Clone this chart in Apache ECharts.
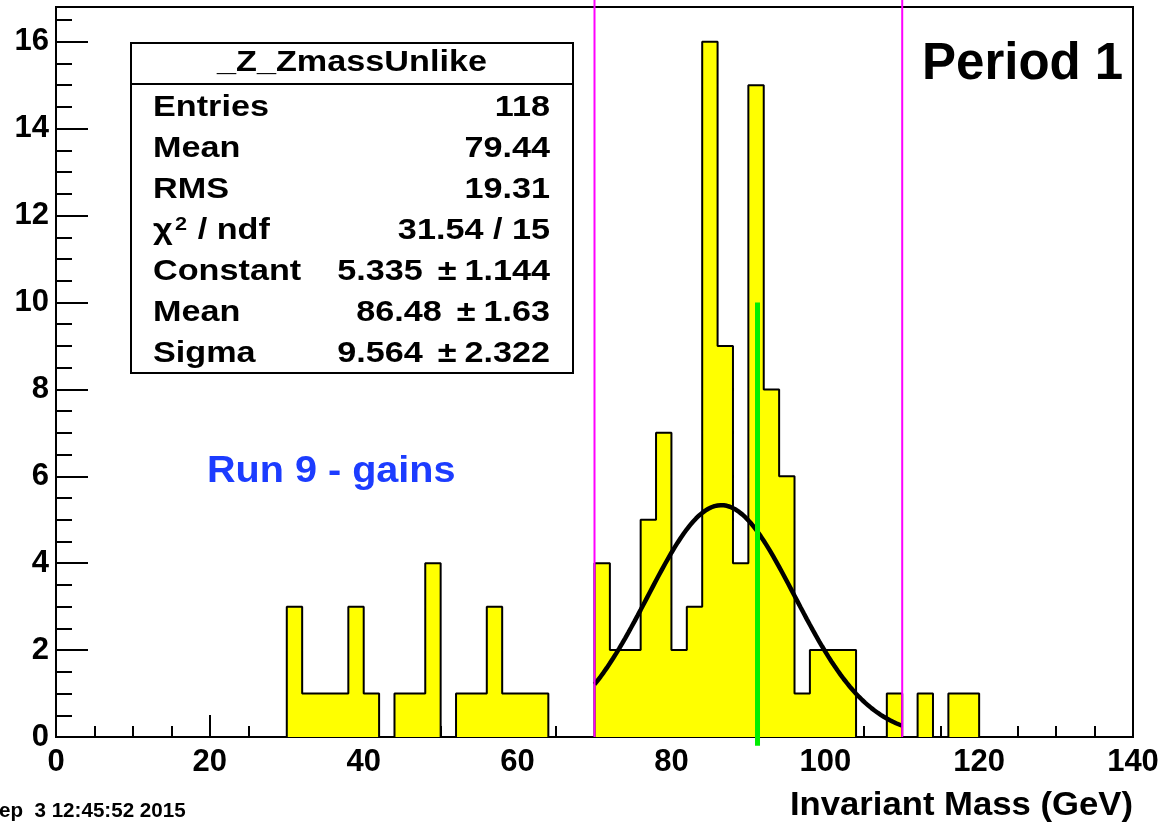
<!DOCTYPE html>
<html>
<head>
<meta charset="utf-8">
<script src="https://cdn.jsdelivr.net/npm/echarts@6/dist/echarts.min.js"></script>
<style>
  html, body { margin: 0; padding: 0; background: #fff; }
  #chart { width: 1164px; height: 829px; }
</style>
</head>
<body>
<div id="chart"></div>
<script>
// Unlike-sign dimuon invariant mass, 2 GeV bins from 0 to 140 GeV
const binLow = 0;
const binWidth = 2;
const binCounts = [
  0, 0, 0, 0, 0, 0, 0, 0, 0, 0,      //   0 - 20
  0, 0, 0, 0, 0, 3, 1, 1, 1, 3,      //  20 - 40
  1, 0, 1, 1, 4, 0, 1, 1, 3, 1,      //  40 - 60
  1, 1, 0, 0, 0, 4, 2, 2, 5, 7,      //  60 - 80
  2, 3, 16, 9, 4, 15, 8, 6, 1, 2,    //  80 - 100
  2, 2, 0, 0, 1, 0, 1, 0, 1, 1,      // 100 - 120
  0, 0, 0, 0, 0, 0, 0, 0, 0, 0       // 120 - 140
];

// Gaussian fit: constant, mean, sigma, and the fit window
const fitParams = [5.335, 86.48, 9.564];
const fitErrors = [1.144, 1.63, 2.322];
const fitRange = [70, 110];

// Mass window markers and the Z pole marker [x, yTop]
const windowEdges = [70, 110];
const zPole = [91.19, 10];

// Axis ranges
const xRange = [0, 140];
const yRange = [0, 16.8];

// Statistics box
const statTitle = '_Z_ZmassUnlike';
const statNames = ['Entries', 'Mean', 'RMS', '{a|χ}{s|2}{a| / ndf}', 'Constant', 'Mean', 'Sigma'];
const statValues = ['118', '79.44', '19.31', '31.54 / 15', '5.335', '86.48', '9.564'];
const statErrors = [null, null, null, null, '1.144', '1.63', '2.322'];

const FONT = '"Liberation Sans", Arial, Helvetica, sans-serif';

// histogram outline: one point per bin low edge, closed at the upper edge
const histData = binCounts.map((c, i) => [binLow + i * binWidth, c]);
histData.push([binLow + binCounts.length * binWidth, 0]);

// fit function sampled across its window
function gaus(x) {
  const t = (x - fitParams[1]) / fitParams[2];
  return fitParams[0] * Math.exp(-0.5 * t * t);
}
const fitData = [];
for (let k = 0; k <= 100; k++) {
  const x = fitRange[0] + (fitRange[1] - fitRange[0]) * k / 100;
  fitData.push([x, gaus(x)]);
}

const chart = echarts.init(document.getElementById('chart'), null, { renderer: 'canvas' });

const statsX0 = 131, statsX1 = 573, statsY0 = 43, statsY1 = 373, statsHead = 84;
const rowY0 = 107.5, rowStep = 41;
const statScale = 1.14;
const statFont = 'bold 30px ' + FONT;

function textEl(x, y, text, font, align, fill, scaleX, rich) {
  const el = { type: 'text', z: 102, x: x, y: y,
    style: { text: text, font: font, fill: fill || '#000', align: align, textAlign: align,
      verticalAlign: 'middle', textVerticalAlign: 'middle' } };
  if (scaleX) el.scaleX = scaleX;
  if (rich) el.style.rich = rich;
  return el;
}

const statRich = {
  a: { font: statFont, fill: '#000' },
  v: { font: statFont, fill: '#000' },
  p: { font: statFont, fill: '#000', padding: [0, 7, 0, 13] },
  s: { font: 'bold 19px ' + FONT, fill: '#000', verticalAlign: 'top', padding: [0, 1, 8, 2] }
};

const graphics = [
  { type: 'rect', z: 100, shape: { x: statsX0, y: statsY0, width: statsX1 - statsX0, height: statsY1 - statsY0 },
    style: { fill: '#fff', stroke: '#000', lineWidth: 2 } },
  { type: 'line', z: 101, shape: { x1: statsX0, y1: statsHead, x2: statsX1, y2: statsHead },
    style: { stroke: '#000', lineWidth: 2 } },
  textEl((statsX0 + statsX1) / 2, 63, statTitle, statFont, 'center', '#000', statScale)
];
statNames.forEach((name, i) => {
  const y = rowY0 + i * rowStep;
  graphics.push(textEl(153, y, name, statFont, 'left', '#000', statScale, statRich));
  const val = statErrors[i] ? '{v|' + statValues[i] + '}{p|±}{v|' + statErrors[i] + '}' : statValues[i];
  graphics.push(textEl(550, y, val, statFont, 'right', '#000', statScale, statRich));
});
graphics.push(
  textEl(207, 471.5, 'Run 9 - gains', 'bold 37px ' + FONT, 'left', '#1c3cff', 1.07),
  textEl(922, 65, 'Period 1', 'bold 51px ' + FONT, 'left', '#000'),
  textEl(1133, 806, 'Invariant Mass (GeV)', 'bold 34px ' + FONT, 'right', '#000', 1.02),
  textEl(-1, 811, 'ep  3 12:45:52 2015', 'bold 20px ' + FONT, 'left', '#000', 1.03)
);

const axisLabelStyle = { color: '#000', fontFamily: FONT, fontWeight: 'bold', fontSize: 31 };

chart.setOption({
  animation: false,
  backgroundColor: '#fff',
  grid: { left: 56, right: 31, top: 7, bottom: 92, show: true, borderColor: '#000', borderWidth: 2, backgroundColor: 'transparent' },
  xAxis: {
    type: 'value', min: xRange[0], max: xRange[1], interval: 20,
    axisLine: { show: true, onZero: false, lineStyle: { color: '#000', width: 2 } },
    axisTick: { show: true, inside: true, length: 22, lineStyle: { color: '#000', width: 2 } },
    minorTick: { show: true, splitNumber: 4, length: 11, lineStyle: { color: '#000', width: 2 } },
    splitLine: { show: false },
    axisLabel: Object.assign({ margin: 10 }, axisLabelStyle)
  },
  yAxis: [
    {
      type: 'value', min: yRange[0], max: yRange[1], interval: 2,
      axisLine: { show: true, onZero: false, lineStyle: { color: '#000', width: 2 } },
      axisTick: { show: true, inside: true, length: 32, lineStyle: { color: '#000', width: 2 } },
      splitLine: { show: false },
      axisLabel: Object.assign({ margin: 7, showMaxLabel: false,
        formatter: v => (Math.abs(v / 2 - Math.round(v / 2)) < 1e-6 ? String(v) : '') }, axisLabelStyle)
    },
    {
      type: 'value', min: yRange[0], max: yRange[1], interval: 0.5, position: 'left',
      axisLine: { show: false },
      axisTick: { show: true, inside: true, length: 16, lineStyle: { color: '#000', width: 2 } },
      splitLine: { show: false },
      axisLabel: { show: false }
    }
  ],
  series: [
    {
      name: 'histogram', type: 'line', step: 'end', data: histData, symbol: 'none',
      lineStyle: { color: '#000', width: 2 },
      areaStyle: { color: '#ffff00', opacity: 1 },
      z: 2
    },
    {
      name: 'fit', type: 'line', data: fitData, symbol: 'none', smooth: false,
      lineStyle: { color: '#000', width: 4.5 },
      z: 3
    },
    {
      name: 'Z pole', type: 'line', clip: false, symbol: 'none',
      data: [[zPole[0], -0.2], [zPole[0], zPole[1]]],
      lineStyle: { color: '#00ee00', width: 5 },
      z: 4
    },
    {
      name: 'low edge', type: 'line', clip: false, symbol: 'none',
      data: [[windowEdges[0], 0], [windowEdges[0], 17.2]],
      lineStyle: { color: '#ff00ff', width: 2 },
      z: 5
    },
    {
      name: 'high edge', type: 'line', clip: false, symbol: 'none',
      data: [[windowEdges[1], 0], [windowEdges[1], 17.2]],
      lineStyle: { color: '#ff00ff', width: 2 },
      z: 5
    }
  ],
  graphic: { elements: graphics }
});
</script>
</body>
</html>
